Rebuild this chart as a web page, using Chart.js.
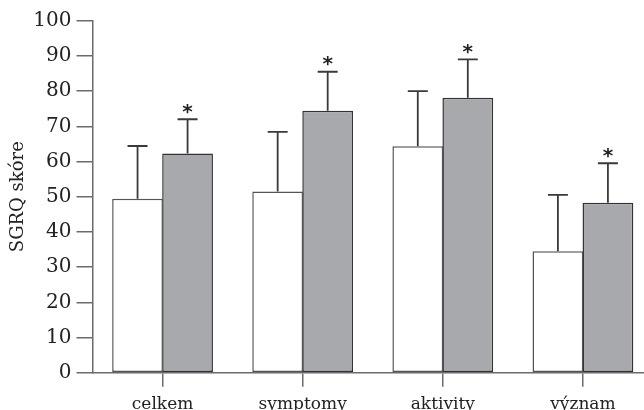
<!DOCTYPE html>
<html>
<head>
<meta charset="utf-8">
<script src="https://cdn.jsdelivr.net/npm/chart.js@4/dist/chart.umd.min.js"></script>
<style>
  html, body { margin: 0; padding: 0; background: #fff; }
  #wrap { width: 644px; height: 410px; }
</style>
</head>
<body>
<div id="wrap"><canvas id="chart"></canvas></div>
<script>
// ===== DATA =====
var categories = ['celkem', 'symptomy', 'aktivity', 'význam'];
var whiteMeans = [49.4, 51.5, 64.3, 34.5];
var whiteSD = [15.0, 16.9, 15.7, 16.0];
var grayMeans = [62.3, 74.4, 78.1, 48.3];
var graySD = [9.7, 11.1, 10.9, 11.2];
var graySignificant = [true, true, true, true];
var yTicks = [0, 10, 20, 30, 40, 50, 60, 70, 80, 90, 100];

var SERIF = '"DejaVu Serif", serif';
var AXIS = '#6b6b6b';
var INK = '#3a3a3a';

function points(values) {
    return values.map(function(v, i) { return { x: i, y: v }; });
}

// error bars (upper half only) + asterisks for significant differences
var errorBars = {
    id: 'errorBars',
    afterDatasetsDraw: function(chart) {
        var ctx = chart.ctx;
        var y = chart.scales.y;
        chart.data.datasets.forEach(function(ds, di) {
            var meta = chart.getDatasetMeta(di);
            meta.data.forEach(function(bar, i) {
                var top = y.getPixelForValue(ds.data[i].y + ds.sd[i]);
                ctx.save();
                ctx.strokeStyle = INK;
                ctx.lineWidth = 1.8;
                ctx.beginPath();
                ctx.moveTo(bar.x, bar.y);
                ctx.lineTo(bar.x, top);
                ctx.moveTo(bar.x - 10, top);
                ctx.lineTo(bar.x + 10, top);
                ctx.stroke();
                if (ds.sig && ds.sig[i]) {
                    ctx.fillStyle = '#222';
                    ctx.font = 'bold 20px "DejaVu Sans", sans-serif';
                    ctx.textAlign = 'center';
                    ctx.textBaseline = 'alphabetic';
                    ctx.fillText('*', bar.x, top - 13 + 11.5);
                }
                ctx.restore();
            });
        });
    }
};

new Chart(document.getElementById('chart'), {
    type: 'bar',
    data: {
        datasets: [{
            data: points(whiteMeans),
            sd: whiteSD,
            backgroundColor: '#ffffff',
            borderColor: '#555555',
            borderWidth: 1.5,
            borderSkipped: false
        }, {
            data: points(grayMeans),
            sd: graySD,
            sig: graySignificant,
            backgroundColor: '#a8a9ad',
            borderColor: '#333333',
            borderWidth: 1.5,
            borderSkipped: false
        }]
    },
    options: {
        responsive: true,
        maintainAspectRatio: false,
        animation: false,
        categoryPercentage: 0.714,
        barPercentage: 1.015,
        layout: { padding: { top: 20.7, right: 0, bottom: 0, left: 0 } },
        plugins: {
            legend: { display: false },
            tooltip: { enabled: false }
        },
        scales: {
            x: {
                type: 'linear',
                offset: false,
                min: -0.5,
                max: 3.436,
                afterFit: function(scale) { scale.height = 37.3; },
                border: { display: true, color: AXIS, width: 1.5 },
                grid: { offset: false, drawOnChartArea: false, drawTicks: true, tickLength: 14, color: AXIS, lineWidth: 1.5 },
                ticks: {
                    stepSize: 1,
                    includeBounds: false,
                    autoSkip: false,
                    maxRotation: 0,
                    padding: 8,
                    color: '#222',
                    font: { family: SERIF, size: 17 },
                    callback: function(v) { return Number.isInteger(v) && categories[v] !== undefined ? categories[v] : ''; }
                }
            },
            y: {
                min: 0,
                max: 100,
                afterFit: function(scale) { scale.width = 92.5; },
                afterBuildTicks: function(scale) {
                    scale.ticks = yTicks.map(function(v) { return { value: v }; });
                },
                border: { display: true, color: AXIS, width: 1.5 },
                grid: { drawOnChartArea: false, drawTicks: true, tickLength: 16, color: AXIS, lineWidth: 1.5 },
                ticks: { padding: 5, color: '#222', font: { family: SERIF, size: 20 } },
                title: {
                    display: true,
                    text: 'SGRQ skóre',
                    color: '#222',
                    font: { family: SERIF, size: 18 },
                    padding: { top: 8, bottom: 0 }
                }
            }
        }
    },
    plugins: [errorBars]
});
</script>
</body>
</html>
